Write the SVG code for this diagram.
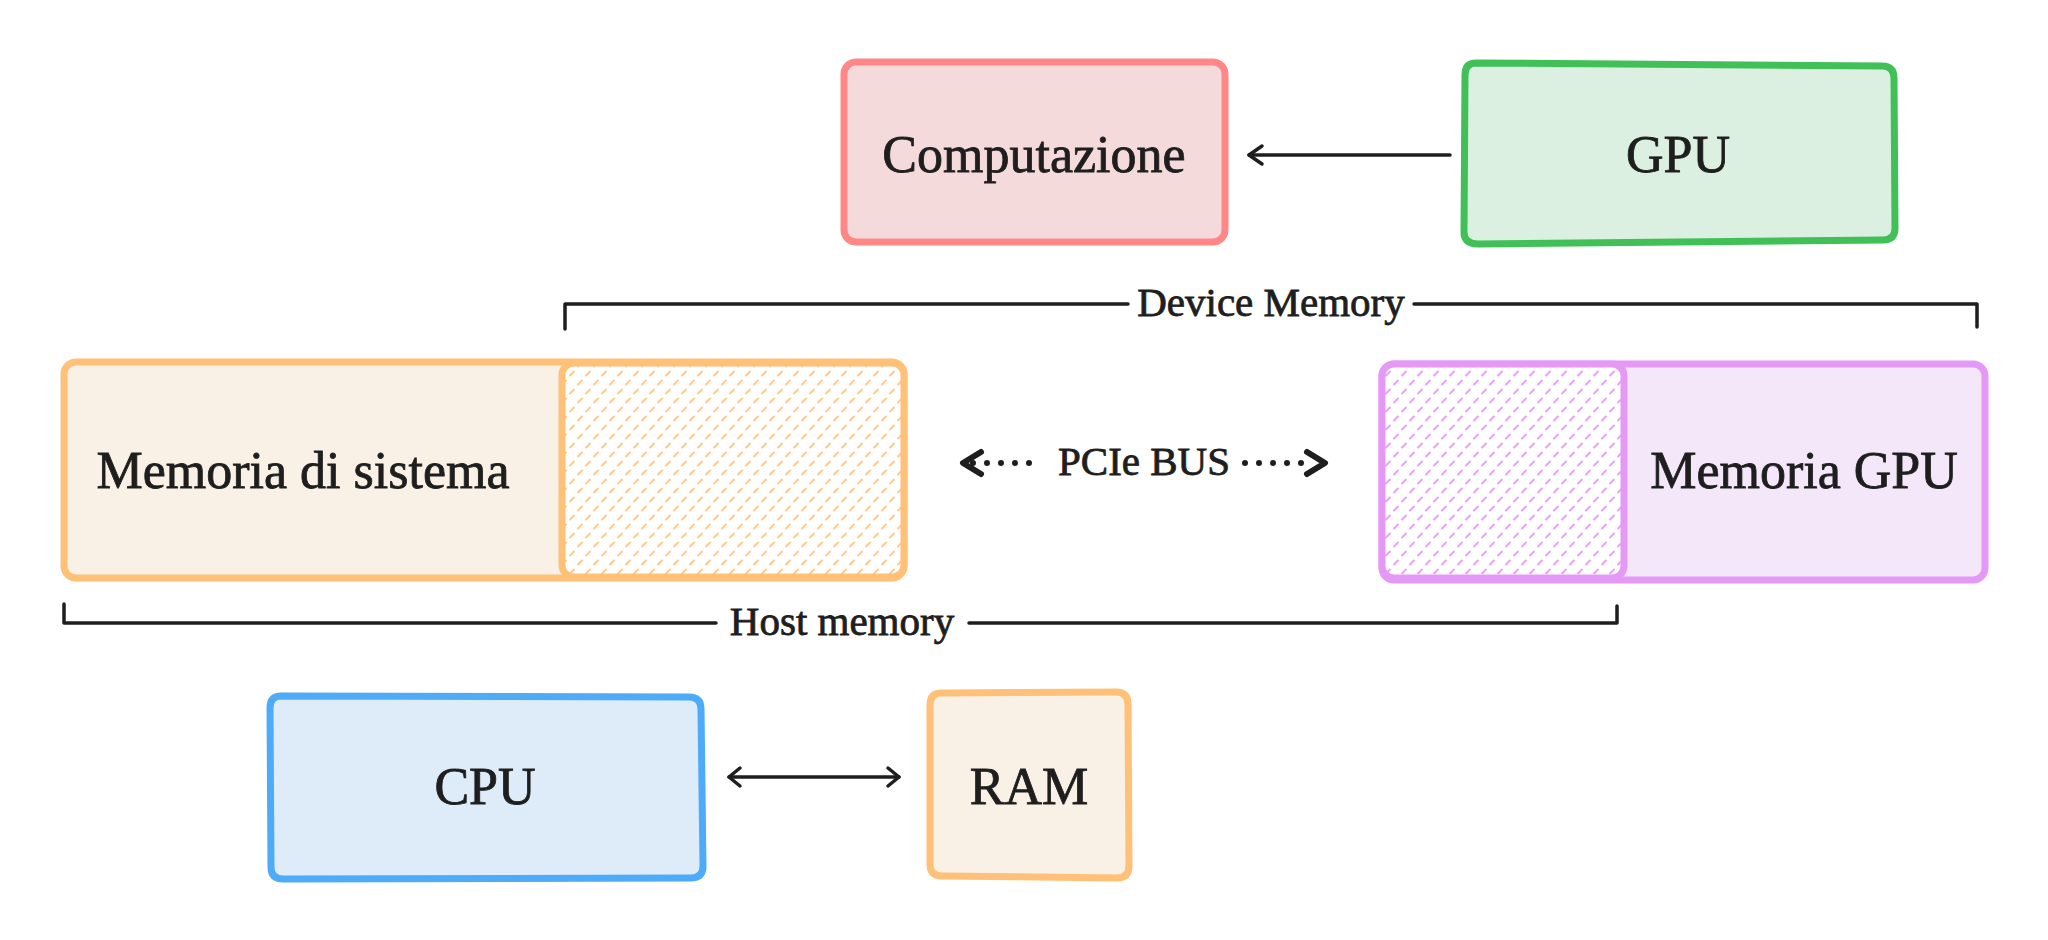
<svg xmlns="http://www.w3.org/2000/svg" width="2048" height="940" viewBox="0 0 2048 940">
<defs>
<pattern id="hatchO" width="16" height="18" patternUnits="userSpaceOnUse">
<path d="M2 6.5 L6 2.5 M10 15.5 L14 11.5" stroke="#ffc078" stroke-width="2" stroke-linecap="round" opacity="0.85"/>
</pattern>
<pattern id="hatchP" width="16" height="18" patternUnits="userSpaceOnUse">
<path d="M2 6.5 L6 2.5 M10 15.5 L14 11.5" stroke="#e599f7" stroke-width="2" stroke-linecap="round" opacity="0.9"/>
</pattern>
<style>
.box{stroke-width:7;stroke-linejoin:round}
.lbl{font-family:"Liberation Serif","Times New Roman",serif;fill:#1e1e1e;text-anchor:middle;dominant-baseline:central;stroke:#1e1e1e;stroke-width:0.8}
.big{font-size:52px}
.small{font-size:41px}
.ln{fill:none;stroke:#1e1e1e;stroke-width:3.5;stroke-linecap:round;stroke-linejoin:round}
.dots{fill:none;stroke:#1e1e1e;stroke-width:6;stroke-linecap:round;stroke-dasharray:0 14}
.head{fill:none;stroke:#1e1e1e;stroke-width:6;stroke-linecap:round;stroke-linejoin:round}
</style>
</defs>
<rect width="2048" height="940" fill="#ffffff"/>

<g id="computazione">
<rect class="box" x="844" y="62" width="381" height="180" rx="12" fill="#f5dadc" stroke="#ff8787"/>
<text class="lbl big" x="1034" y="154">Computazione</text>
</g>

<g id="gpu">
<path class="box" d="M1476 63 L1882 66 Q1894 66 1894 78 L1895 228 Q1895 240 1883 240 L1478 244 Q1464 244 1464 232 L1465 75 Q1465 63 1476 63 Z" fill="#dcf0e1" stroke="#40c057"/>
<text class="lbl big" x="1678" y="154">GPU</text>
</g>

<g id="memoria-sistema">
<rect class="box" x="64" y="362" width="840" height="216" rx="12" fill="#f9f0e6" stroke="#ffc078"/>
<rect x="562" y="363" width="342" height="214" rx="12" fill="#ffffff"/>
<rect class="box" x="562" y="363" width="342" height="214" rx="12" fill="url(#hatchO)" stroke="#ffc078"/>
<text class="lbl big" x="303" y="470">Memoria di sistema</text>
</g>

<g id="memoria-gpu">
<rect class="box" x="1382" y="364" width="603" height="216" rx="12" fill="#f4e7fa" stroke="#e599f7"/>
<rect x="1382" y="364" width="242" height="214" rx="12" fill="#ffffff"/>
<rect class="box" x="1382" y="364" width="242" height="214" rx="12" fill="url(#hatchP)" stroke="#e599f7"/>
<text class="lbl big" x="1804" y="470">Memoria GPU</text>
</g>

<g id="cpu">
<path class="box" d="M281 696 L689 697 Q701 697 701 709 L703 866 Q703 878 691 878 L283 879 Q271 879 271 867 L270 708 Q270 696 281 696 Z" fill="#deecf9" stroke="#4dabf7"/>
<text class="lbl big" x="485" y="786">CPU</text>
</g>

<g id="ram">
<path class="box" d="M941 693 L1116 692 Q1128 692 1128 704 L1129 866 Q1129 878 1117 878 L942 876 Q930 876 930 864 L930 705 Q930 693 941 693 Z" fill="#f9f0e6" stroke="#ffc078"/>
<text class="lbl big" x="1029" y="786">RAM</text>
</g>

<g id="connectors">
<!-- GPU -> Computazione -->
<path class="ln" d="M1450 155 L1249 155"/>
<path class="ln" d="M1262 146 L1249 155 L1262 164"/>
<!-- CPU <-> RAM -->
<path class="ln" d="M729 777 L899 777"/>
<path class="ln" d="M740 768 L729 777 L740 786"/>
<path class="ln" d="M888 768 L899 777 L888 786"/>
<!-- PCIe BUS -->
<path class="dots" d="M973 463 L1043 463"/>
<path class="dots" d="M1245 463 L1315 463"/>
<path class="head" d="M981 452 L963 463 L981 474"/>
<path class="head" d="M1307 452 L1325 463 L1307 474"/>
<text class="lbl small" x="1144" y="461">PCIe BUS</text>
<!-- Device Memory bracket -->
<path class="ln" d="M565 329 L565 304 L1128 304"/>
<path class="ln" d="M1414 304 L1977 304 L1977 327"/>
<text class="lbl small" x="1271" y="302">Device Memory</text>
<!-- Host memory bracket -->
<path class="ln" d="M64 604 L64 623 L716 623"/>
<path class="ln" d="M969 623 L1617 623 L1617 606"/>
<text class="lbl small" x="842" y="621">Host memory</text>
</g>
</svg>
